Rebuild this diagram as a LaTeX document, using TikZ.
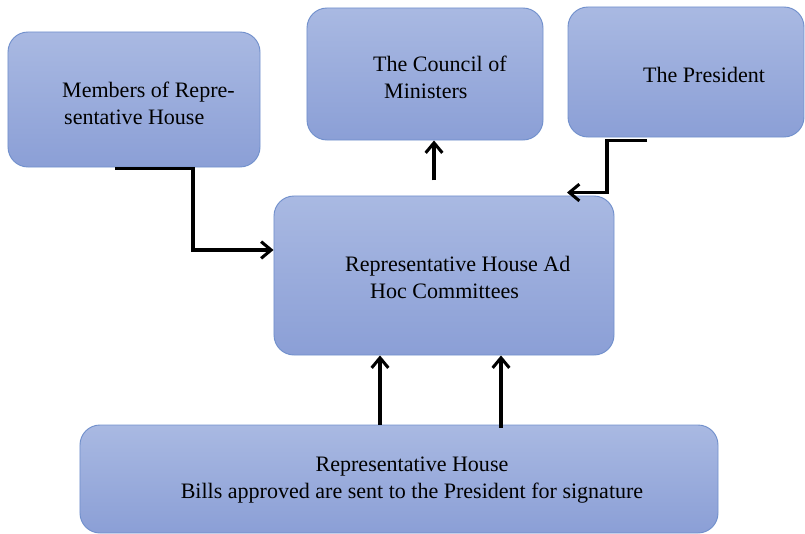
\documentclass[tikz,border=0pt]{standalone}
\usepackage{fontspec}
\setmainfont{Liberation Serif}
\usetikzlibrary{calc,arrows.meta}

\definecolor{boxtop}{HTML}{A9B9E2}
\definecolor{boxbot}{HTML}{8B9FD6}
\definecolor{boxline}{HTML}{7190CC}

\tikzset{
  box/.style={draw=boxline, line width=0.8pt, rounded corners=0.6cm,
    top color=boxtop, bottom color=boxbot, inner sep=0pt},
  lbl/.style={font=\fontsize{18.8}{23}\selectfont, align=left, anchor=west, inner sep=0pt},
  conn/.style={line width=3pt, -{Straight Barb[length=0.3cm,width=0.5cm,line width=2.6pt]}}
}

\begin{document}
\begin{tikzpicture}[x=0.03cm,y=-0.03cm]
\useasboundingbox (0,0) rectangle (805,534);

% the five boxes
\node[box, minimum width=7.56cm, minimum height=4.05cm] (members) at (134,99.5) {};
\node[box, minimum width=7.08cm, minimum height=3.96cm] (council) at (425,74) {};
\node[box, minimum width=7.08cm, minimum height=3.9cm] (president) at (686,72) {};
\node[box, minimum width=10.2cm, minimum height=4.77cm] (hoc) at (444,275.5) {};
\node[box, minimum width=19.14cm, minimum height=3.24cm] (bills) at (399,479) {};

% texts
\node[lbl] (membersTxt) at (62,103) {Members of Repre-\\\hspace{0.06cm}sentative House};
\node[lbl] (councilTxt) at (373,77) {The Council of\\\hspace{0.33cm}Ministers};
\node[lbl] (presidentTxt) at (643,75) {The President};
\node[lbl] (hocTxt) at (345,277) {Representative House Ad\\\hspace{0.75cm}Hoc Committees};
\node[lbl, align=center, anchor=center] (billsTxt) at (412,480)
  {Representative House\\Bills approved are sent to the President for signature};

% connectors
\coordinate (up) at ($(council.south)+(9,40)$);
\draw[conn] ($(members.south)+(-19,1)$) -- ++(78,0) |- ($(hoc.west)+(0,-25.5)$);
\draw[conn] (up) -- ($(council.south)+(9,0)$);
\draw[conn] ($(president.south)+(-39,3)$) -- ++(-40,0) |- ($(hoc.north)+(123,-3)$);
\draw[conn] ($(bills.north)+(-19,0)$) -- ($(hoc.south)+(-64,0)$);
\draw[conn] ($(bills.north)+(102,3)$) -- ($(hoc.south)+(57,0)$);
\end{tikzpicture}
\end{document}
